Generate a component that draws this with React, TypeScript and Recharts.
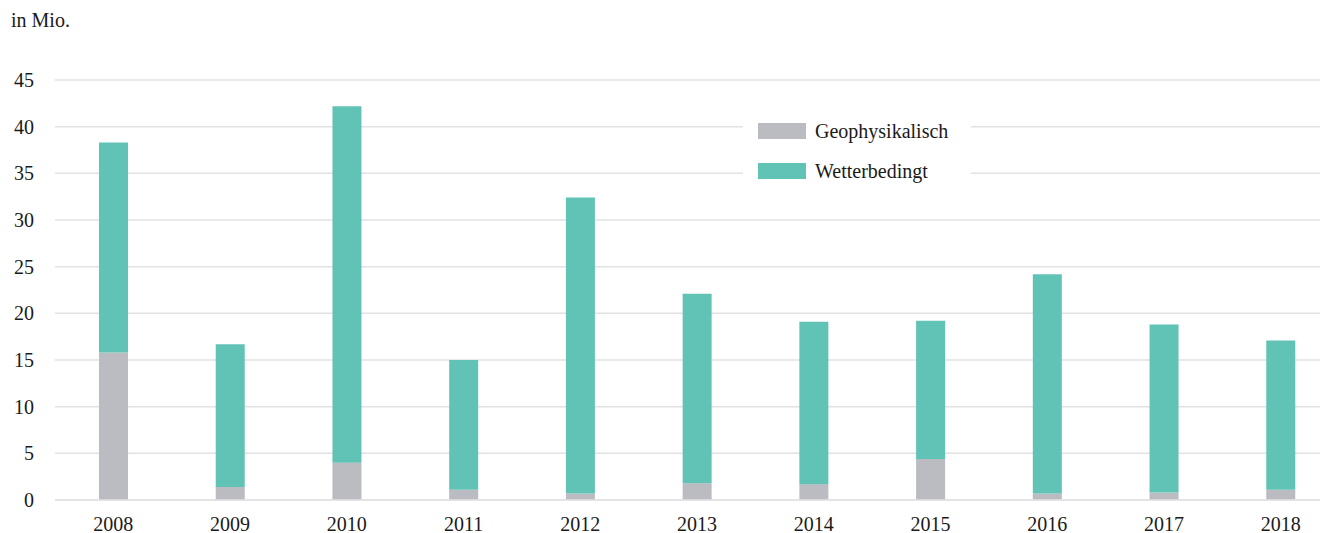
import { BarChart, Bar, XAxis, YAxis, CartesianGrid } from 'recharts';

const years = ['2008', '2009', '2010', '2011', '2012', '2013', '2014', '2015', '2016', '2017', '2018'];
const geophysical = [15.8, 1.4, 4.0, 1.1, 0.7, 1.8, 1.7, 4.4, 0.7, 0.8, 1.1];
const weather = [22.5, 15.3, 38.2, 13.9, 31.7, 20.3, 17.4, 14.8, 23.5, 18.0, 16.0];
const yTicks = [0, 5, 10, 15, 20, 25, 30, 35, 40, 45];

const GRAY = '#bbbcc1';
const TEAL = '#61c3b6';
const TEXT = '#1a1a1a';
const FONT = '"Liberation Serif", "Times New Roman", serif';

const data = years.map((year, i) => ({
  year,
  geo: geophysical[i],
  wetter: weather[i],
}));

const legendItems = [
  { label: 'Geophysikalisch', color: GRAY },
  { label: 'Wetterbedingt', color: TEAL },
];

function ChartLegend() {
  return (
    <div style={{ position: 'absolute', left: 735, top: 104, width: 228, height: 84, background: '#fff', paddingTop: 11, boxSizing: 'border-box' }}>
      {legendItems.map((item, i) => (
        <div key={item.label} style={{ display: 'flex', alignItems: 'center', height: 16, marginTop: i ? 24 : 0, paddingLeft: 15 }}>
          <span style={{ display: 'inline-block', width: 48, height: 16, background: item.color, marginRight: 9 }} />
          <span style={{ fontFamily: FONT, fontSize: 20, lineHeight: '16px', color: TEXT }}>{item.label}</span>
        </div>
      ))}
    </div>
  );
}

export default function App() {
  return (
    <div style={{ position: 'relative', width: 1320, height: 525, overflow: 'hidden', fontFamily: FONT }}>
      <div style={{ position: 'absolute', left: 3, top: 0, fontSize: 20, lineHeight: '24px', color: TEXT }}>in Mio.</div>
      <BarChart width={1331} height={525} data={data} margin={{ top: 72, right: 0, bottom: 3, left: 0 }}>
        <CartesianGrid vertical={false} stroke="#e2e2e6" strokeWidth={1.5} />
        <XAxis
          dataKey="year"
          axisLine={{ stroke: '#e2e2e6', strokeWidth: 1.5 }}
          tickLine={false}
          height={30}
          tickMargin={11}
          tick={{ fill: TEXT, fontSize: 20, fontFamily: FONT }}
        />
        <YAxis
          width={47}
          domain={[0, 45]}
          ticks={yTicks}
          axisLine={false}
          tickLine={false}
          tickMargin={15}
          tick={{ fill: TEXT, fontSize: 20, fontFamily: FONT }}
        />
        <Bar dataKey="geo" stackId="a" fill={GRAY} barSize={29} isAnimationActive={false} />
        <Bar dataKey="wetter" stackId="a" fill={TEAL} barSize={29} isAnimationActive={false} />
      </BarChart>
      <ChartLegend />
    </div>
  );
}
